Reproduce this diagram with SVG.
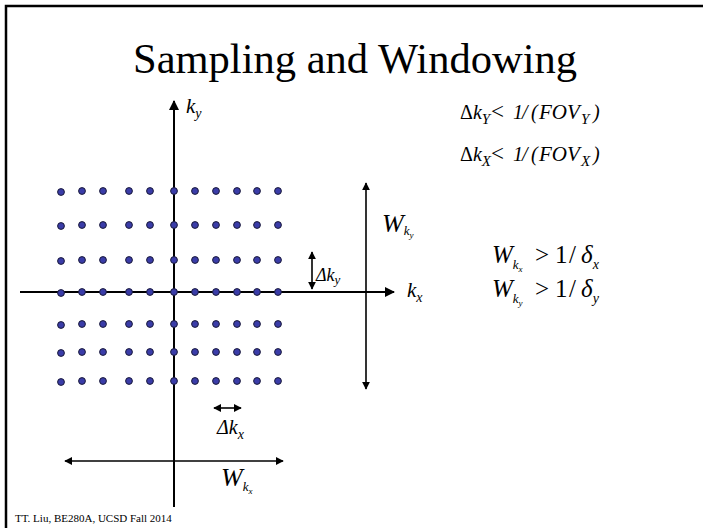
<svg xmlns="http://www.w3.org/2000/svg" width="703" height="528" viewBox="0 0 703 528">
<defs>
<style>
text{font-family:'Liberation Serif','Times New Roman','DejaVu Serif',serif;fill:#000}
.i{font-style:italic}
.n{font-style:normal}
.ax{stroke:#000;stroke-width:2;fill:none}
.dim{stroke:#000;stroke-width:1.6;fill:none}
.dot{fill:#3a3ca8;stroke:#1a1a3a;stroke-width:1}
</style>
<marker id="ah" viewBox="0 0 10 10" refX="9" refY="5" markerWidth="5" markerHeight="5" orient="auto-start-reverse" markerUnits="strokeWidth">
<path d="M0,0 L10,5 L0,10 z" fill="#000"/>
</marker>
</defs>
<rect width="703" height="528" fill="#fff"/>
<path d="M6,528 V6 H703" stroke="#000" stroke-width="2.5" fill="none"/>
<text x="355" y="73" font-size="43" text-anchor="middle" textLength="444" lengthAdjust="spacingAndGlyphs">Sampling and Windowing</text>

<g id="connectors">
<line class="ax" x1="174" y1="507" x2="174" y2="101" marker-end="url(#ah)"/>
<line class="ax" x1="20" y1="292" x2="394" y2="292" marker-end="url(#ah)"/>
<line class="dim" x1="366" y1="183" x2="366" y2="389" marker-start="url(#ah)" marker-end="url(#ah)"/>
<line class="dim" x1="312" y1="252" x2="312" y2="289" marker-start="url(#ah)" marker-end="url(#ah)"/>
<line class="dim" x1="214" y1="408" x2="241" y2="408" marker-start="url(#ah)" marker-end="url(#ah)"/>
<line class="dim" x1="65" y1="461" x2="283" y2="461" marker-start="url(#ah)" marker-end="url(#ah)"/>
</g>

<g id="samples">
<g id="row1"><circle class="dot" cx="61" cy="192" r="3.4"/><circle class="dot" cx="82" cy="191" r="3.4"/><circle class="dot" cx="103" cy="191" r="3.4"/><circle class="dot" cx="129" cy="191" r="3.4"/><circle class="dot" cx="150" cy="191" r="3.4"/><circle class="dot" cx="174" cy="191" r="3.4"/><circle class="dot" cx="195" cy="191" r="3.4"/><circle class="dot" cx="216" cy="191" r="3.4"/><circle class="dot" cx="237" cy="191" r="3.4"/><circle class="dot" cx="257" cy="191" r="3.4"/><circle class="dot" cx="278" cy="191" r="3.4"/></g>
<g id="row2"><circle class="dot" cx="61" cy="226" r="3.4"/><circle class="dot" cx="82" cy="225" r="3.4"/><circle class="dot" cx="103" cy="225" r="3.4"/><circle class="dot" cx="129" cy="225" r="3.4"/><circle class="dot" cx="150" cy="225" r="3.4"/><circle class="dot" cx="174" cy="225" r="3.4"/><circle class="dot" cx="195" cy="225" r="3.4"/><circle class="dot" cx="216" cy="225" r="3.4"/><circle class="dot" cx="237" cy="225" r="3.4"/><circle class="dot" cx="257" cy="225" r="3.4"/><circle class="dot" cx="278" cy="225" r="3.4"/></g>
<g id="row3"><circle class="dot" cx="61" cy="261" r="3.4"/><circle class="dot" cx="82" cy="260" r="3.4"/><circle class="dot" cx="103" cy="260" r="3.4"/><circle class="dot" cx="129" cy="260" r="3.4"/><circle class="dot" cx="150" cy="260" r="3.4"/><circle class="dot" cx="174" cy="260" r="3.4"/><circle class="dot" cx="195" cy="260" r="3.4"/><circle class="dot" cx="216" cy="260" r="3.4"/><circle class="dot" cx="237" cy="260" r="3.4"/><circle class="dot" cx="257" cy="260" r="3.4"/><circle class="dot" cx="278" cy="260" r="3.4"/></g>
<g id="row4"><circle class="dot" cx="61" cy="293" r="3.4"/><circle class="dot" cx="82" cy="292" r="3.4"/><circle class="dot" cx="103" cy="292" r="3.4"/><circle class="dot" cx="129" cy="292" r="3.4"/><circle class="dot" cx="150" cy="292" r="3.4"/><circle class="dot" cx="174" cy="292" r="3.4"/><circle class="dot" cx="195" cy="292" r="3.4"/><circle class="dot" cx="216" cy="292" r="3.4"/><circle class="dot" cx="237" cy="292" r="3.4"/><circle class="dot" cx="257" cy="292" r="3.4"/><circle class="dot" cx="278" cy="292" r="3.4"/></g>
<g id="row5"><circle class="dot" cx="61" cy="325" r="3.4"/><circle class="dot" cx="82" cy="324" r="3.4"/><circle class="dot" cx="103" cy="324" r="3.4"/><circle class="dot" cx="129" cy="324" r="3.4"/><circle class="dot" cx="150" cy="324" r="3.4"/><circle class="dot" cx="174" cy="324" r="3.4"/><circle class="dot" cx="195" cy="324" r="3.4"/><circle class="dot" cx="216" cy="324" r="3.4"/><circle class="dot" cx="237" cy="324" r="3.4"/><circle class="dot" cx="257" cy="324" r="3.4"/><circle class="dot" cx="278" cy="324" r="3.4"/></g>
<g id="row6"><circle class="dot" cx="61" cy="353" r="3.4"/><circle class="dot" cx="82" cy="352" r="3.4"/><circle class="dot" cx="103" cy="352" r="3.4"/><circle class="dot" cx="129" cy="352" r="3.4"/><circle class="dot" cx="150" cy="352" r="3.4"/><circle class="dot" cx="174" cy="352" r="3.4"/><circle class="dot" cx="195" cy="352" r="3.4"/><circle class="dot" cx="216" cy="352" r="3.4"/><circle class="dot" cx="237" cy="352" r="3.4"/><circle class="dot" cx="257" cy="352" r="3.4"/><circle class="dot" cx="278" cy="352" r="3.4"/></g>
<g id="row7"><circle class="dot" cx="61" cy="382" r="3.4"/><circle class="dot" cx="82" cy="381" r="3.4"/><circle class="dot" cx="103" cy="381" r="3.4"/><circle class="dot" cx="129" cy="381" r="3.4"/><circle class="dot" cx="150" cy="381" r="3.4"/><circle class="dot" cx="174" cy="381" r="3.4"/><circle class="dot" cx="195" cy="381" r="3.4"/><circle class="dot" cx="216" cy="381" r="3.4"/><circle class="dot" cx="237" cy="381" r="3.4"/><circle class="dot" cx="257" cy="381" r="3.4"/><circle class="dot" cx="278" cy="381" r="3.4"/></g>
</g>

<g id="label-ky"><text class="i" x="186" y="113" font-size="21">k<tspan font-size="14" dy="5">y</tspan></text></g>
<g id="label-kx"><text class="i" x="407" y="297" font-size="21">k<tspan font-size="14" dy="5">x</tspan></text></g>
<g id="label-dky"><text class="i" x="316" y="281" font-size="18">Δk<tspan font-size="13" dy="3">y</tspan></text></g>
<g id="label-Wky"><text class="i" x="382" y="232" font-size="26">W<tspan font-size="13" dy="3">k</tspan><tspan font-size="9" dy="3">y</tspan></text></g>
<g id="label-dkx"><text class="i" x="217" y="434" font-size="20">Δk<tspan font-size="14" dy="5">x</tspan></text></g>
<g id="label-Wkx"><text class="i" x="221" y="486" font-size="26">W<tspan font-size="13" dy="5">k</tspan><tspan font-size="9" dy="3">x</tspan></text></g>

<g id="cond-fov">
<text class="i" x="460" y="119" font-size="20"><tspan class="n">Δ</tspan>k<tspan font-size="15" dy="5">Y</tspan><tspan class="n" x="491" dy="-5" font-size="23">&lt;</tspan><tspan x="513">1</tspan><tspan x="522">/</tspan><tspan x="531">(</tspan><tspan x="539" font-size="21">FOV</tspan><tspan x="581" font-size="15" dy="5">Y</tspan><tspan x="593" dy="-5">)</tspan></text>
<text class="i" x="460" y="161" font-size="20"><tspan class="n">Δ</tspan>k<tspan font-size="15" dy="5">X</tspan><tspan class="n" x="491" dy="-5" font-size="23">&lt;</tspan><tspan x="513">1</tspan><tspan x="522">/</tspan><tspan x="531">(</tspan><tspan x="539" font-size="21">FOV</tspan><tspan x="581" font-size="15" dy="5">X</tspan><tspan x="593" dy="-5">)</tspan></text>
</g>

<g id="cond-w">
<text x="492" y="263" font-size="25"><tspan font-style="italic">W</tspan><tspan font-style="italic" font-size="13" dy="6">k</tspan><tspan font-style="italic" font-size="9" dy="3">x</tspan><tspan dy="-9" x="535">&gt;</tspan><tspan x="555">1</tspan><tspan x="569">/</tspan><tspan x="581" font-style="italic">δ</tspan><tspan font-style="italic" font-size="14" dy="6">x</tspan></text>
<text x="492" y="297" font-size="25"><tspan font-style="italic">W</tspan><tspan font-style="italic" font-size="13" dy="6">k</tspan><tspan font-style="italic" font-size="9" dy="3">y</tspan><tspan dy="-9" x="535">&gt;</tspan><tspan x="555">1</tspan><tspan x="569">/</tspan><tspan x="581" font-style="italic">δ</tspan><tspan font-style="italic" font-size="14" dy="6">y</tspan></text>
</g>

<text x="15" y="522" font-size="11">TT. Liu, BE280A, UCSD Fall 2014</text>
</svg>
